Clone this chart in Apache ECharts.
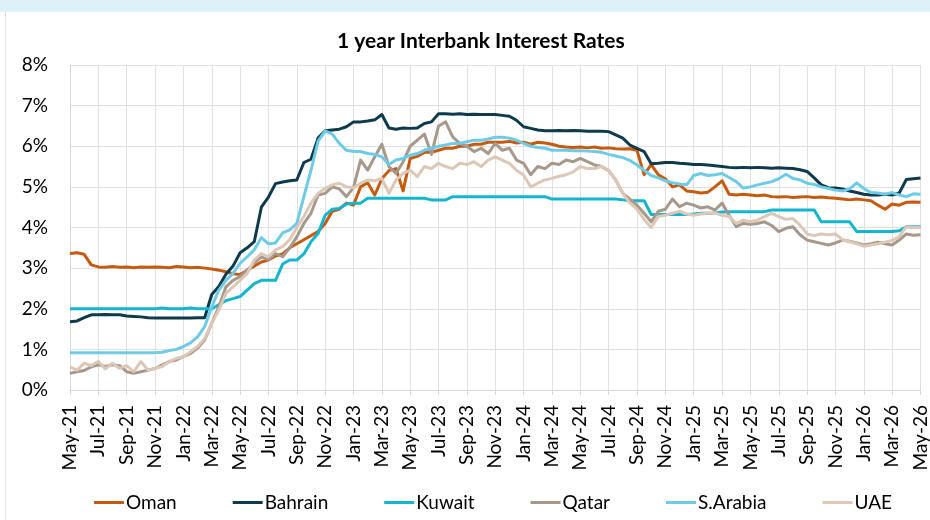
<!DOCTYPE html>
<html>
<head>
<meta charset="utf-8">
<script src="https://cdn.jsdelivr.net/npm/echarts@6/dist/echarts.min.js"></script>
<style>
  html, body { margin: 0; padding: 0; background: #ffffff; }
  #chart { width: 930px; height: 520px; }
</style>
</head>
<body>
<div id="chart"></div>
<script>
// Axis tick labels, one every two months
const TICK_LABELS = [
  'May-21','Jul-21','Sep-21','Nov-21','Jan-22','Mar-22','May-22','Jul-22','Sep-22','Nov-22',
  'Jan-23','Mar-23','May-23','Jul-23','Sep-23','Nov-23','Jan-24','Mar-24','May-24','Jul-24',
  'Sep-24','Nov-24','Jan-25','Mar-25','May-25','Jul-25','Sep-25','Nov-25','Jan-26','Mar-26','May-26'
];

// Half-monthly observations (%), May-21 .. May-26, 12 values per row = 6 months
const oman = [
  3.36, 3.38, 3.34, 3.08, 3.03, 3.02, 3.04, 3.02, 3.03, 3.01, 3.03, 3.02,
  3.03, 3.02, 3.01, 3.04, 3.03, 3.01, 3.02, 3.00, 2.98, 2.95, 2.91, 2.86,
  2.84, 2.95, 3.05, 3.15, 3.20, 3.30, 3.35, 3.50, 3.60, 3.70, 3.80, 3.90,
  4.10, 4.40, 4.45, 4.60, 4.55, 5.00, 5.10, 4.80, 5.20, 5.40, 5.45, 4.90,
  5.70, 5.75, 5.85, 5.85, 5.90, 5.95, 5.95, 6.00, 6.00, 6.05, 6.05, 6.10,
  6.10, 6.10, 6.12, 6.08, 6.10, 6.05, 6.10, 6.08, 6.05, 6.00, 5.98, 5.97,
  5.98, 5.96, 5.98, 5.95, 5.96, 5.94, 5.93, 5.94, 5.90, 5.30, 5.55, 5.30,
  5.20, 5.00, 5.05, 4.90, 4.88, 4.85, 4.87, 5.00, 5.15, 4.82, 4.80, 4.82,
  4.80, 4.78, 4.80, 4.76, 4.75, 4.76, 4.74, 4.75, 4.76, 4.74, 4.75, 4.73,
  4.72, 4.70, 4.68, 4.70, 4.68, 4.66, 4.55, 4.45, 4.58, 4.55, 4.62, 4.63,
  4.62
];
const bahrain = [
  1.68, 1.70, 1.78, 1.85, 1.85, 1.86, 1.85, 1.85, 1.82, 1.81, 1.80, 1.78,
  1.77, 1.77, 1.77, 1.77, 1.77, 1.77, 1.78, 1.78, 2.35, 2.55, 2.85, 3.05,
  3.38, 3.50, 3.65, 4.50, 4.75, 5.08, 5.12, 5.15, 5.17, 5.60, 5.68, 6.20,
  6.38, 6.40, 6.42, 6.48, 6.60, 6.60, 6.62, 6.65, 6.78, 6.45, 6.42, 6.45,
  6.44, 6.45, 6.56, 6.60, 6.80, 6.80, 6.79, 6.80, 6.78, 6.79, 6.78, 6.78,
  6.78, 6.76, 6.74, 6.64, 6.48, 6.44, 6.40, 6.38, 6.38, 6.39, 6.38, 6.39,
  6.38, 6.37, 6.37, 6.37, 6.36, 6.28, 6.20, 6.03, 5.95, 5.87, 5.57, 5.58,
  5.60, 5.60, 5.58, 5.57, 5.55, 5.55, 5.54, 5.52, 5.50, 5.48, 5.47, 5.48,
  5.47, 5.48, 5.47, 5.46, 5.47, 5.46, 5.45, 5.42, 5.38, 5.22, 5.05, 4.98,
  4.97, 4.95, 4.90, 4.86, 4.82, 4.80, 4.80, 4.82, 4.80, 4.85, 5.18, 5.20,
  5.22
];
const kuwait = [
  2.00, 2.00, 2.00, 2.00, 2.00, 2.00, 2.00, 2.00, 2.00, 2.00, 2.00, 2.00,
  2.00, 2.02, 2.00, 2.00, 2.00, 2.02, 2.00, 2.00, 2.00, 2.10, 2.20, 2.25,
  2.30, 2.46, 2.62, 2.70, 2.70, 2.70, 3.10, 3.20, 3.20, 3.35, 3.65, 3.85,
  4.30, 4.45, 4.47, 4.58, 4.60, 4.60, 4.72, 4.72, 4.72, 4.72, 4.72, 4.72,
  4.72, 4.72, 4.72, 4.68, 4.68, 4.68, 4.76, 4.76, 4.76, 4.76, 4.76, 4.76,
  4.76, 4.76, 4.76, 4.76, 4.76, 4.76, 4.76, 4.76, 4.70, 4.70, 4.70, 4.70,
  4.70, 4.70, 4.70, 4.70, 4.70, 4.70, 4.68, 4.66, 4.66, 4.66, 4.32, 4.32,
  4.32, 4.32, 4.32, 4.32, 4.33, 4.35, 4.35, 4.36, 4.38, 4.39, 4.39, 4.39,
  4.39, 4.39, 4.39, 4.43, 4.43, 4.43, 4.43, 4.43, 4.43, 4.43, 4.14, 4.14,
  4.14, 4.14, 4.14, 3.90, 3.90, 3.90, 3.90, 3.90, 3.90, 3.92, 4.02, 4.02,
  4.02
];
const qatar = [
  0.41, 0.45, 0.48, 0.57, 0.62, 0.58, 0.62, 0.60, 0.45, 0.41, 0.45, 0.49,
  0.53, 0.62, 0.70, 0.74, 0.82, 0.90, 1.03, 1.23, 1.64, 2.05, 2.54, 2.70,
  2.79, 2.95, 3.12, 3.28, 3.20, 3.36, 3.28, 3.50, 3.77, 4.10, 4.35, 4.80,
  4.84, 5.00, 4.95, 4.76, 4.98, 5.66, 5.41, 5.74, 6.05, 5.50, 5.33, 5.62,
  6.00, 6.15, 6.30, 5.80, 6.50, 6.60, 6.23, 6.07, 6.00, 5.87, 5.95, 5.82,
  6.07, 5.90, 5.95, 5.66, 5.58, 5.30, 5.50, 5.45, 5.58, 5.55, 5.66, 5.62,
  5.70, 5.62, 5.54, 5.50, 5.40, 5.17, 4.84, 4.70, 4.55, 4.35, 4.14, 4.40,
  4.45, 4.70, 4.51, 4.60, 4.55, 4.48, 4.51, 4.43, 4.60, 4.30, 4.02, 4.10,
  4.08, 4.10, 4.14, 4.05, 3.90, 3.98, 4.02, 3.82, 3.69, 3.65, 3.61, 3.57,
  3.62, 3.69, 3.66, 3.62, 3.57, 3.60, 3.64, 3.60, 3.57, 3.69, 3.84, 3.81,
  3.82
];
const saudi = [
  0.92, 0.92, 0.92, 0.92, 0.92, 0.92, 0.92, 0.92, 0.92, 0.92, 0.92, 0.92,
  0.92, 0.93, 0.97, 1.00, 1.07, 1.16, 1.31, 1.56, 2.05, 2.46, 2.70, 2.87,
  3.12, 3.28, 3.45, 3.75, 3.60, 3.62, 3.87, 3.94, 4.10, 4.76, 5.41, 6.12,
  6.38, 6.30, 6.07, 5.90, 5.87, 5.87, 5.82, 5.80, 5.74, 5.55, 5.66, 5.70,
  5.78, 5.82, 5.90, 5.95, 6.00, 6.03, 6.07, 6.07, 6.11, 6.15, 6.15, 6.18,
  6.22, 6.22, 6.20, 6.15, 6.07, 6.00, 5.97, 5.95, 5.90, 5.90, 5.90, 5.89,
  5.89, 5.88, 5.87, 5.85, 5.80, 5.76, 5.72, 5.65, 5.54, 5.41, 5.28, 5.22,
  5.15, 5.10, 5.07, 5.05, 5.28, 5.33, 5.28, 5.30, 5.33, 5.23, 5.13, 4.97,
  5.00, 5.05, 5.09, 5.13, 5.20, 5.31, 5.21, 5.17, 5.09, 5.06, 5.00, 4.96,
  4.92, 4.90, 4.95, 5.10, 4.96, 4.86, 4.85, 4.82, 4.86, 4.80, 4.76, 4.83,
  4.82
];
const uae = [
  0.57, 0.49, 0.66, 0.60, 0.70, 0.52, 0.66, 0.53, 0.60, 0.45, 0.70, 0.49,
  0.53, 0.58, 0.70, 0.78, 0.82, 0.94, 1.07, 1.27, 1.64, 1.97, 2.38, 2.54,
  2.70, 2.87, 3.20, 3.36, 3.28, 3.45, 3.53, 3.70, 4.00, 4.27, 4.60, 4.84,
  4.96, 5.05, 5.09, 5.00, 4.98, 5.09, 5.17, 5.15, 5.21, 4.84, 5.17, 5.33,
  5.41, 5.25, 5.50, 5.45, 5.58, 5.50, 5.45, 5.58, 5.55, 5.62, 5.50, 5.66,
  5.74, 5.66, 5.58, 5.41, 5.29, 5.00, 5.09, 5.17, 5.21, 5.26, 5.30, 5.37,
  5.50, 5.45, 5.45, 5.50, 5.40, 5.17, 4.84, 4.60, 4.45, 4.20, 4.00, 4.27,
  4.30, 4.35, 4.40, 4.33, 4.30, 4.33, 4.35, 4.36, 4.30, 4.27, 4.10, 4.18,
  4.14, 4.18, 4.27, 4.35, 4.27, 4.20, 4.22, 4.06, 3.84, 3.80, 3.84, 3.82,
  3.84, 3.70, 3.65, 3.60, 3.54, 3.57, 3.60, 3.64, 3.68, 3.78, 4.02, 4.00,
  4.00
];

const SERIES_NAMES = ['Oman', 'Bahrain', 'Kuwait', 'Qatar', 'S.Arabia', 'UAE'];
const SERIES_COLORS = ['#C55A11', '#0E3A4C', '#14B6CF', '#A6998B', '#6ECBE7', '#DDC7B6'];
const SERIES_DATA = [oman, bahrain, kuwait, qatar, saudi, uae];

// Four half-month periods between consecutive tick labels
const categories = [];
TICK_LABELS.forEach((lab, k) => {
  const parts = k < TICK_LABELS.length - 1 ? 4 : 1;
  for (let j = 0; j < parts; j++) categories.push(lab + '#' + j);
});

const FONT = 'Lato, "Open Sans", sans-serif';
const chart = echarts.init(document.getElementById('chart'), null, { renderer: 'canvas' });

chart.setOption({
  animation: false,
  backgroundColor: '#ffffff',
  title: {
    text: '1 year Interbank Interest Rates',
    left: 332,
    top: 26,
    textStyle: { fontFamily: FONT, fontSize: 21, fontWeight: 'bold', color: '#000000' }
  },
  graphic: [
    { type: 'rect', left: 0, top: 0, shape: { width: 930, height: 12 }, style: { fill: '#DFF1F8' }, silent: true },
    { type: 'line', shape: { x1: 5.5, y1: 12, x2: 5.5, y2: 520 }, style: { stroke: '#E3E3E3', lineWidth: 1 }, silent: true }
  ],
  legend: {
    bottom: 3,
    left: 89,
    itemGap: 56,
    itemWidth: 30,
    itemHeight: 3,
    icon: 'rect',
    data: SERIES_NAMES,
    textStyle: { fontFamily: FONT, fontSize: 19, color: '#000000', padding: [0, 0, 0, -3] }
  },
  grid: { left: 70, right: 4, top: 65, bottom: 130 },
  xAxis: {
    type: 'category',
    data: categories,
    boundaryGap: false,
    axisLine: { show: true, lineStyle: { color: '#D9D9D9', width: 1 } },
    axisTick: { show: true, interval: 3, length: 5, lineStyle: { color: '#D9D9D9' } },
    splitLine: { show: true, interval: 3, lineStyle: { color: '#E0E0E0', width: 1 } },
    axisLabel: {
      interval: 3,
      rotate: 90,
      margin: 15,
      fontFamily: FONT,
      fontSize: 19,
      color: '#000000',
      formatter: (v) => v.split('#')[0]
    }
  },
  yAxis: {
    type: 'value',
    min: 0,
    max: 8,
    interval: 1,
    axisLine: { show: true, lineStyle: { color: '#D9D9D9' } },
    axisTick: { show: false },
    splitLine: { show: true, lineStyle: { color: '#E0E0E0', width: 1 } },
    axisLabel: {
      margin: 22,
      fontFamily: FONT,
      fontSize: 19,
      color: '#000000',
      formatter: '{value}%'
    }
  },
  series: SERIES_NAMES.map((name, i) => ({
    name,
    type: 'line',
    data: SERIES_DATA[i],
    showSymbol: false,
    symbol: 'none',
    color: SERIES_COLORS[i],
    lineStyle: { width: 3, color: SERIES_COLORS[i], join: 'round' }
  }))
});
</script>
</body>
</html>
